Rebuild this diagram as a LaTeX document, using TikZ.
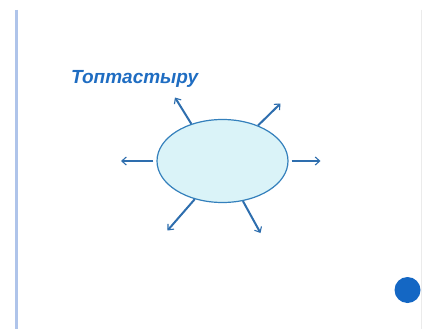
\documentclass[tikz,border=0pt]{standalone}
\usepackage{fontspec}
\setmainfont{Liberation Sans}
\usetikzlibrary{arrows.meta,shapes.geometric}
\definecolor{titleblue}{HTML}{1F6DC2}
\definecolor{arrowblue}{HTML}{2E6EAE}
\definecolor{ellfill}{HTML}{DAF3F8}
\definecolor{ellline}{HTML}{3480BC}
\definecolor{sidebar}{HTML}{AFC4EA}
\definecolor{dotblue}{HTML}{1467C4}
\tikzset{
  ray/.style={draw=arrowblue, line width=2pt, -{Straight Barb[length=4.5pt,width=8pt,line width=1.1pt]}},
  bubble/.style={ellipse, draw=ellline, fill=ellfill, line width=1.2pt, minimum width=131pt, minimum height=83pt, inner sep=0pt},
  titletext/.style={font=\bfseries\itshape\fontsize{19}{22}\selectfont, text=titleblue, inner sep=0pt, anchor=base west}
}
\begin{document}
\begin{tikzpicture}[x=1pt,y=-1pt]
\useasboundingbox (0,0) rectangle (422,329);
\fill[white] (0,0) rectangle (422,329);
\draw[sidebar, line width=2.5pt] (16.5,10) -- (16.5,329);
\draw[black!8, line width=0.6pt] (421.5,10) -- (421.5,329);
\node[titletext] (title) at (71,83.5) {Топтастыру};
\node[bubble] (e) at (222.5,161) {};
\coordinate (ul) at (175,97.5);
\coordinate (ur) at (280.5,103.5);
\coordinate (l) at (121,161);
\coordinate (r) at (320.5,161);
\coordinate (dl) at (167.5,230.5);
\coordinate (dr) at (260.5,233);
\draw[ray] (e.130) -- (ul);
\draw[ray] (e.45) -- (ur);
\draw[ray] ([xshift=-3pt]e.west) -- (l);
\draw[ray] ([xshift=3pt]e.east) -- (r);
\draw[ray] (e.-126) -- (dl);
\draw[ray] (e.-63) -- (dr);
\node[circle, fill=dotblue, minimum size=26pt, inner sep=0pt] (dot) at (407.5,290) {};
\end{tikzpicture}
\end{document}
